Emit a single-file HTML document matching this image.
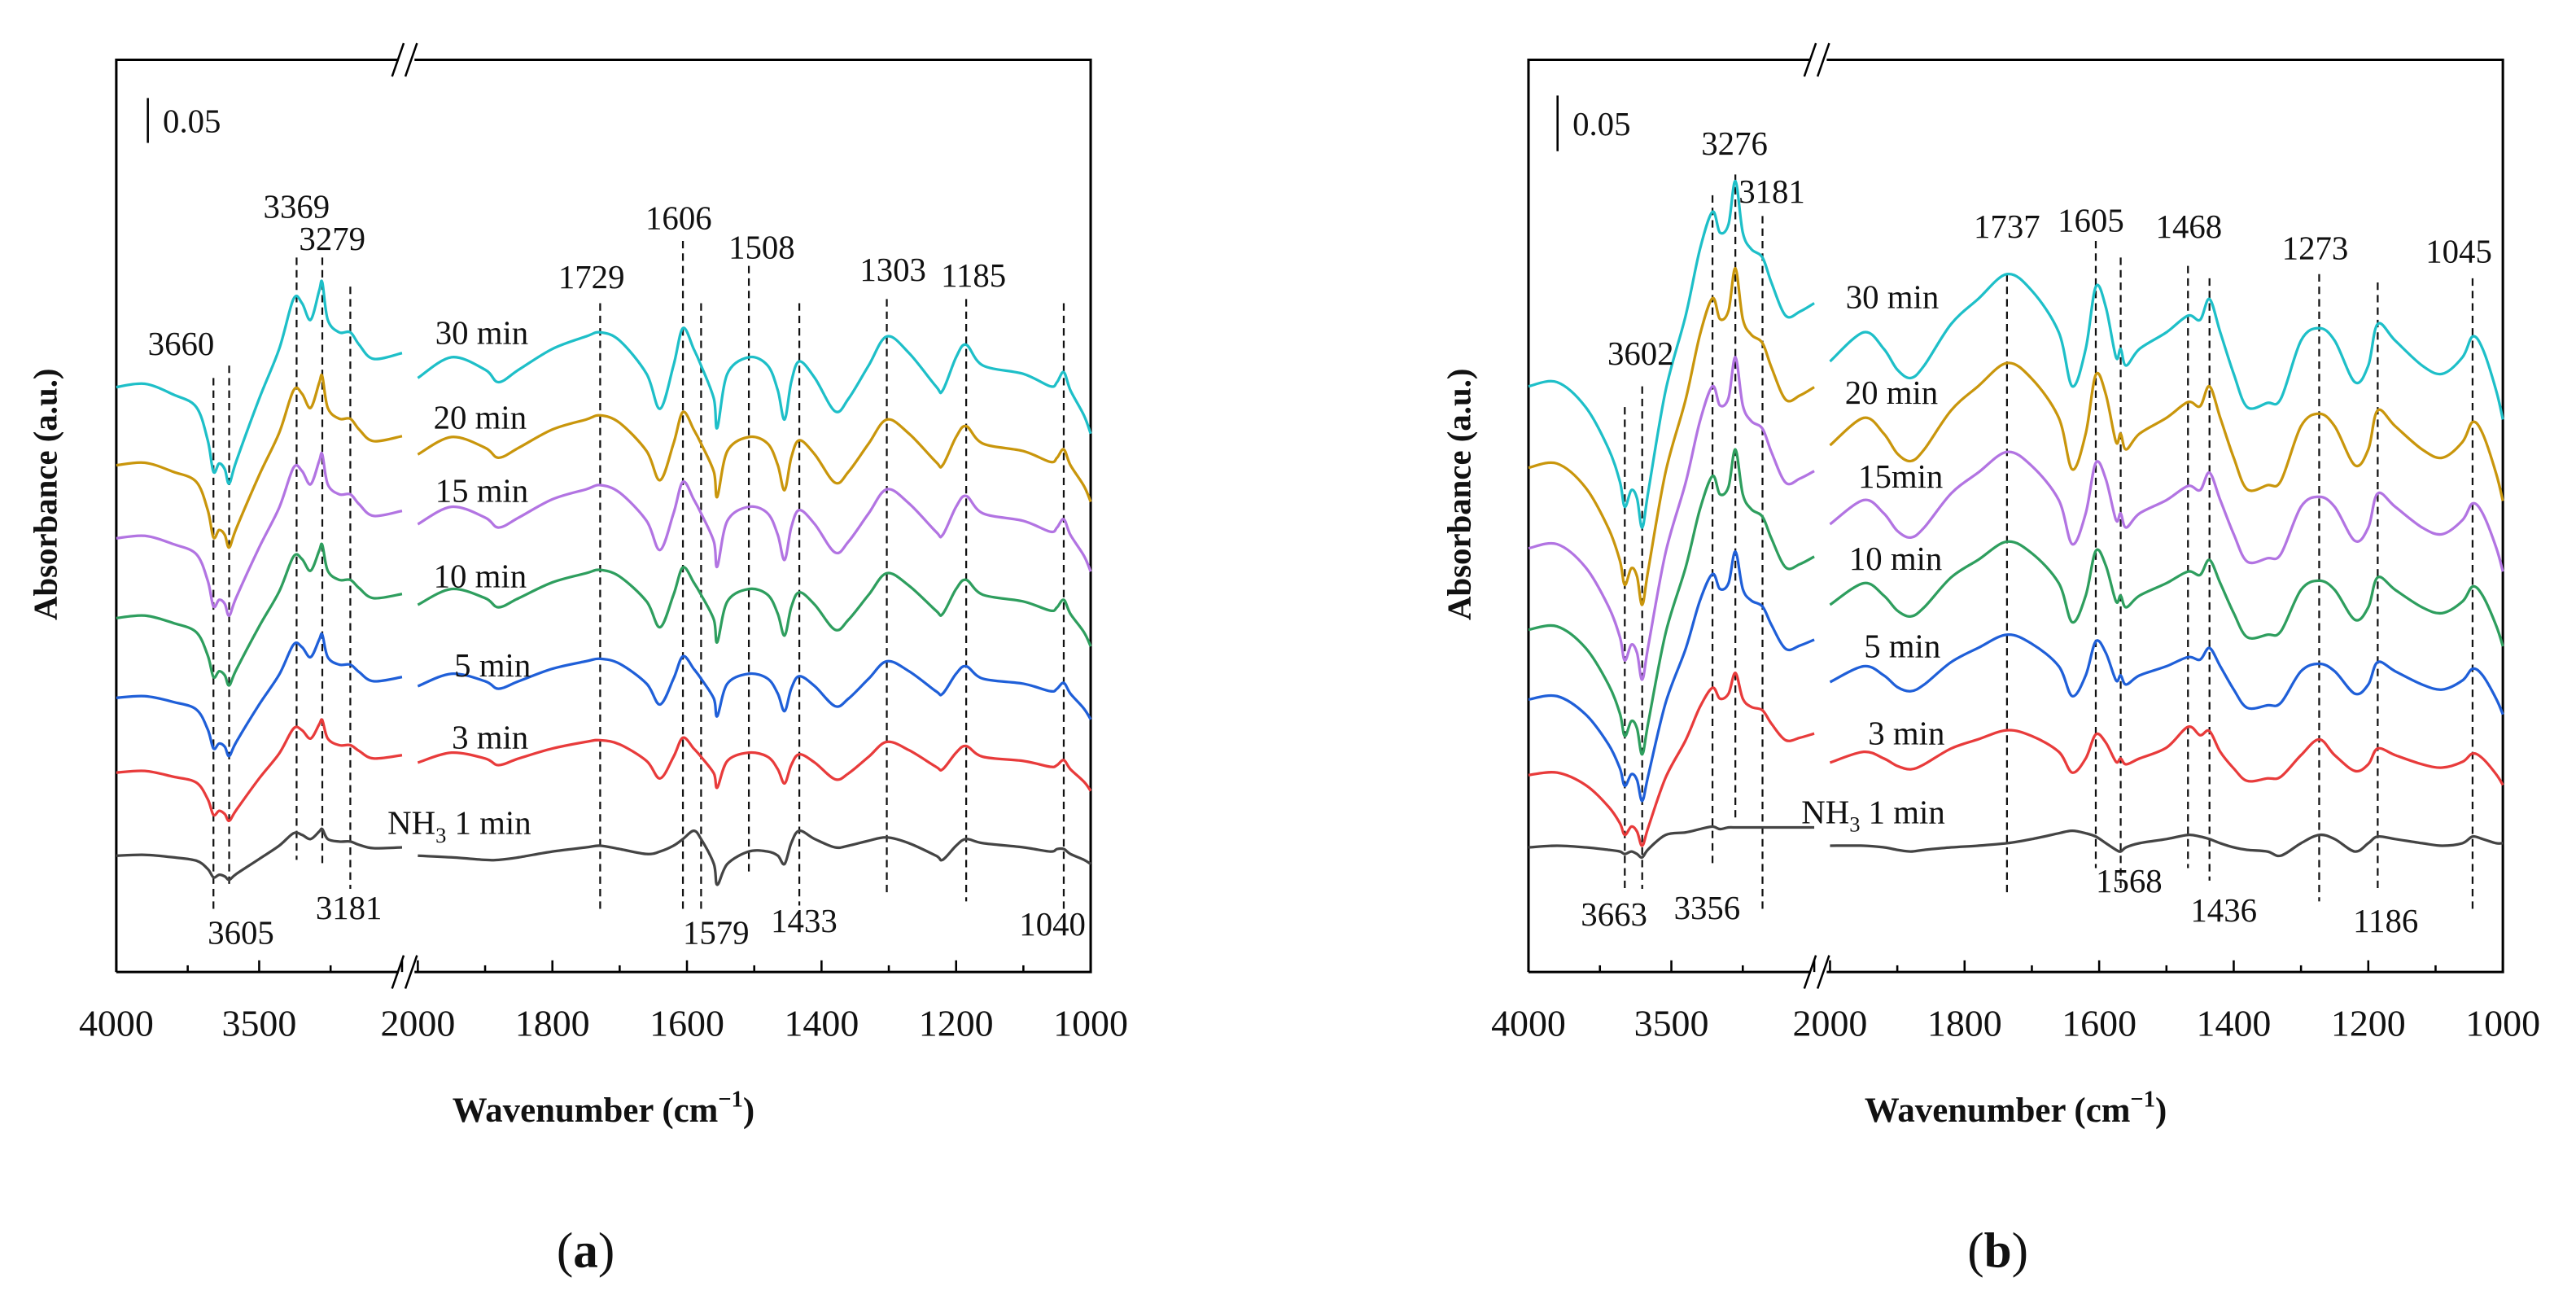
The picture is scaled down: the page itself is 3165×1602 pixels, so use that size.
<!DOCTYPE html>
<html><head><meta charset="utf-8"><style>
html,body{margin:0;padding:0;background:#fff;}
svg{display:block;}
text{font-family:"Liberation Serif",serif;fill:#111;}
</style></head><body>
<svg id="svg" width="3165" height="1602" viewBox="0 0 3165 1602">
<g id="pa" transform="translate(0,0) scale(1.0206)"></g>
<g id="pb" transform="translate(1582,0) scale(1.0206)"></g>
</svg>
<script>
// ---------- Panel A data ----------
const seriesNames = ["30 min","20 min","15 min","10 min","5 min","3 min","NH3 1 min"];
const seriesColors = ["#1ebfc8","#c9960c","#b274e2","#2e9e5e","#1f5fd8","#e83b3b","#444444"];
const wnLeftA = [4000,3900,3800,3720,3680,3660,3640,3620,3605,3580,3500,3430,3380,3350,3320,3290,3279,3260,3220,3181,3150,3100,3000];
const wnRightA = [2000,1950,1900,1880,1850,1800,1750,1729,1700,1660,1640,1620,1606,1590,1579,1560,1555,1540,1508,1480,1465,1455,1445,1433,1410,1380,1360,1330,1303,1270,1230,1220,1200,1185,1160,1100,1060,1050,1040,1030,1010,1000];
const offsetLeftA = [704,610,522,426,330,240,140];
const offsetRightA = [648,566,482,392,304,218,130];
const leftA = [
[0,4,-9,-24,-64,-102,-92,-99,-116,-89,-14,46,106,101,81,116,126,81,66,66,51,34,41],
[0,3,-8,-20,-54,-87,-78,-84,-99,-76,-12,39,90,86,69,99,107,69,56,56,43,29,35],
[0,3,-7,-19,-51,-82,-74,-79,-93,-71,-11,37,85,81,65,93,101,65,53,53,41,27,33],
[0,3,-6,-17,-45,-71,-64,-69,-81,-62,-10,32,74,71,57,81,88,57,46,46,36,24,29],
[0,2,-5,-14,-38,-61,-55,-59,-70,-53,-8,28,64,61,49,70,76,49,40,40,31,20,25],
[0,2,-5,-12,-32,-51,-46,-50,-58,-45,-7,23,53,51,41,58,63,41,33,33,26,17,21],
[0,1,-2,-6,-16,-26,-23,-25,-29,-22,-4,12,27,25,20,29,32,20,17,17,13,9,10]];
const rightA = [
[67,92,77,62,77,102,117,122,112,72,30,82,127,102,82,42,7,72,92,82,52,17,62,87,67,27,42,82,117,97,57,52,92,107,82,72,57,62,74,52,22,0],
[57,78,65,53,65,87,99,104,95,61,26,70,108,87,70,36,6,61,78,70,44,14,53,74,57,23,36,70,99,82,48,44,78,91,70,61,48,53,63,44,19,0],
[57,78,65,53,65,87,99,104,95,61,26,70,108,87,70,36,6,61,78,70,44,14,53,74,57,23,36,70,99,82,48,44,78,91,70,61,48,53,63,44,19,0],
[50,69,58,47,58,77,88,92,84,54,23,62,95,77,62,32,5,54,69,62,39,13,47,65,50,20,32,62,88,73,43,39,69,80,62,54,43,47,56,39,17,0],
[40,55,46,37,46,61,70,73,67,43,18,49,76,61,49,25,4,43,55,49,31,10,37,52,40,16,25,49,70,58,34,31,55,64,49,43,34,37,44,31,13,0],
[34,46,39,31,39,51,59,61,56,36,15,41,64,51,41,21,4,36,46,41,26,9,31,44,34,14,21,41,59,49,29,26,46,54,41,36,29,31,37,26,11,0],
[10,8,5,5,8,15,20,22,18,12,15,22,30,40,30,0,-25,0,15,15,10,0,25,40,30,20,22,28,32,25,10,5,22,30,25,20,15,18,18,12,5,0]];
const peaksA = [3660,3605,3369,3279,3181,1729,1606,1579,1508,1433,1303,1185,1040];
const peakTopA = [455,440,310,310,345,365,290,365,320,365,360,360,365];
const peakBotA = [1100,1070,1035,1040,1070,1095,1095,1100,1050,1090,1075,1085,1100];
const peakLabelsA = [["3660",218,413],["3369",357,248],["3279",400,287],["1729",712,333],["1606",817,262],["1508",917,297],["1303",1075,324],["1185",1172,331],["3605",290,1122],["3181",420,1092],["1579",862,1122],["1433",968,1108],["1040",1267,1112]];
const seriesLabelPosA = [[580,400],[578,502],[580,590],[578,693],[593,800],[590,887],[553,990]];

// ---------- Panel B data ----------
const wnLeftB = [4000,3900,3800,3720,3680,3663,3640,3620,3602,3580,3520,3450,3400,3356,3330,3300,3276,3250,3220,3181,3150,3100,3050,3000];
const wnRightB = [2000,1950,1920,1900,1880,1860,1820,1780,1737,1700,1660,1640,1620,1605,1590,1575,1568,1560,1540,1500,1468,1450,1436,1420,1400,1380,1350,1330,1300,1273,1250,1220,1200,1186,1160,1120,1090,1060,1045,1030,1010,1000];
const offsetLeftB = [705,607,510,412,328,237,150];
const offsetRightB = [665,567,482,392,310,225,155];
const leftB = [
[0,5,-25,-75,-115,-145,-125,-135,-170,-125,-5,85,165,210,185,195,247,185,165,155,125,85,90,100],
[0,5,-24,-73,-112,-141,-121,-131,-165,-121,-5,82,160,204,179,189,240,179,160,150,121,82,87,97],
[0,5,-23,-70,-107,-135,-116,-126,-158,-116,-5,79,153,195,172,181,230,172,153,144,116,79,84,93],
[0,4,-22,-66,-101,-128,-110,-119,-150,-110,-4,75,145,185,163,172,217,163,145,136,110,75,79,88],
[0,4,-18,-54,-83,-104,-90,-97,-122,-90,-4,61,119,151,133,140,178,133,119,112,90,61,65,72],
[0,3,-12,-38,-58,-72,-62,-68,-85,-62,-3,42,82,105,92,98,123,92,82,78,62,42,45,50],
[0,2,0,-3,-5,-8,-5,-8,-12,-2,15,18,22,25,22,24,24,24,24,24,24,24,24,24]];
const rightB = [
[70,105,85,60,50,65,115,145,175,155,105,40,85,160,135,75,85,65,85,105,125,120,145,105,55,15,20,25,95,110,95,45,65,115,95,65,55,75,100,85,35,0],
[67,100,81,57,48,62,109,138,166,147,100,38,81,152,128,71,81,62,81,100,119,114,138,100,52,14,19,24,90,105,90,43,62,109,90,62,52,71,95,81,33,0],
[57,86,70,49,41,53,94,119,144,127,86,33,70,131,111,62,70,53,70,86,103,98,119,86,45,12,16,21,78,90,78,37,53,94,78,53,45,62,82,70,29,0],
[50,76,61,43,36,47,83,104,126,112,76,29,61,115,97,54,61,47,61,76,90,86,104,76,40,11,14,18,68,79,68,32,47,83,68,47,40,54,72,61,25,0],
[39,58,47,33,28,36,63,80,96,85,58,22,47,88,74,41,47,36,47,58,69,66,80,58,30,8,11,14,52,61,52,25,36,63,52,36,30,41,55,47,19,0],
[27,40,32,23,19,25,44,55,66,59,40,15,32,61,51,28,32,25,32,45,70,60,65,40,20,5,8,10,36,55,36,17,25,44,36,25,21,28,38,32,13,0],
[-3,-3,-5,-8,-10,-8,-5,-3,0,5,12,15,12,8,0,-8,-10,-5,0,5,10,8,5,0,-5,-8,-10,-15,0,10,5,-10,0,8,5,0,-3,0,8,5,0,0]];
const peaksB = [3663,3602,3356,3276,3181,1737,1605,1568,1468,1436,1273,1186,1045];
const peakTopB = [490,465,235,210,260,330,290,310,320,335,330,340,335];
const peakBotB = [1075,1070,1045,990,1100,1080,1045,1075,1045,1060,1085,1070,1100];
const peakLabelsB = [["3602",425,425],["3276",538,172],["3181",583,230],["1737",866,272],["1605",967,265],["1468",1085,272],["1273",1237,298],["1045",1410,302],["3663",393,1100],["3356",505,1092],["1568",1013,1060],["1436",1127,1095],["1186",1322,1108]];
const seriesLabelPosB = [[728,357],[727,472],[738,573],[732,672],[740,777],[745,882],[705,977]];

const leftTicks = [4000,3500];
const rightTicks = [2000,1800,1600,1400,1200,1000];

const NS="http://www.w3.org/2000/svg";
function mk(parent,tag,attrs){const e=document.createElementNS(NS,tag);for(const k in attrs)e.setAttribute(k,attrs[k]);parent.appendChild(e);return e;}
function smooth(pts){let d="M"+pts[0][0].toFixed(1)+","+pts[0][1].toFixed(1);
 for(let i=0;i<pts.length-1;i++){const p0=pts[Math.max(0,i-1)],p1=pts[i],p2=pts[i+1],p3=pts[Math.min(pts.length-1,i+2)];
  const c1=[p1[0]+(p2[0]-p0[0])/6,p1[1]+(p2[1]-p0[1])/6],c2=[p2[0]-(p3[0]-p1[0])/6,p2[1]-(p3[1]-p1[1])/6];
  d+="C"+c1[0].toFixed(1)+","+c1[1].toFixed(1)+" "+c2[0].toFixed(1)+","+c2[1].toFixed(1)+" "+p2[0].toFixed(1)+","+p2[1].toFixed(1);}
 return d;}

function drawPanel(g,cfg){
 const L=cfg.x4000, xL=wn=>L+(4000-wn)*0.344, xR=wn=>cfg.x2000+(2000-wn)*0.81, yv=v=>1170-v;
 const xAny=wn=>wn>2500?xL(wn):xR(wn);
 const top=72,bot=1170,right=cfg.x2000+810,brk=xL(3000);
 // frame
 let e=mk(g,'path',{d:`M${L},${bot}V${top}H${brk-4}M${cfg.x2000-4},${top}H${right}V${bot}H${cfg.x2000-4}M${brk-4},${bot}H${L}`,fill:'none',stroke:'#000','stroke-width':3});
 
 for(const yy of [top,bot]){
  e=mk(g,'path',{d:`M${brk-12},${yy+20}L${brk+2},${yy-20}M${brk+4},${yy+20}L${brk+18},${yy-20}`,stroke:'#000','stroke-width':2.5,fill:'none'});
  
 }
 // ticks
 for(let w=4000;w>=3000;w-=250){const x=xL(w);const major=w%500===0;
  e=mk(g,'line',{x1:x,x2:x,y1:bot,y2:bot-(major?14:8),stroke:'#000','stroke-width':2.5});}
 for(let w=2000;w>=1000;w-=100){const x=xR(w);const major=w%200===0;
  e=mk(g,'line',{x1:x,x2:x,y1:bot,y2:bot-(major?14:8),stroke:'#000','stroke-width':2.5});}
 for(const w of leftTicks){e=mk(g,'text',{x:xL(w),y:1247,'font-size':45,'text-anchor':'middle'});e.textContent=w;}
 for(const w of rightTicks){e=mk(g,'text',{x:xR(w),y:1247,'font-size':45,'text-anchor':'middle'});e.textContent=w;}
 // axis titles
 e=mk(g,'text',{x:(L+right)/2,y:1350,'font-size':42,'font-weight':'bold','text-anchor':'middle'});
 e.innerHTML='Wavenumber (cm<tspan font-size="28" dy="-18">−1</tspan><tspan dy="18">)</tspan>';
 
 e=mk(g,'text',{x:0,y:0,'font-size':40,'font-weight':'bold','text-anchor':'middle',transform:`translate(${cfg.yTitleX},595) rotate(-90)`});
 e.textContent='Absorbance (a.u.)';
 // scale bar
 e=mk(g,'line',{x1:cfg.bar[0],x2:cfg.bar[0],y1:cfg.bar[1],y2:cfg.bar[2],stroke:'#000','stroke-width':2.5});
 e=mk(g,'text',{x:cfg.bar[0]+18,y:(cfg.bar[1]+cfg.bar[2])/2+14,'font-size':40});e.textContent='0.05';
 // peak dashed lines
 cfg.peaks.forEach((w,i)=>{const x=xAny(w);
  e=mk(g,'line',{x1:x,x2:x,y1:cfg.pTop[i],y2:cfg.pBot[i],stroke:'#111','stroke-width':2.2,'stroke-dasharray':'9,6'});
  });
 // series
 seriesNames.forEach((nm,s)=>{
  const pl=cfg.wnL.map((w,i)=>[xL(w),yv(cfg.offL[s]+cfg.dL[s][i])]);
  const pr=cfg.wnR.map((w,i)=>[xR(w),yv(cfg.offR[s]+cfg.dR[s][i])]);
  e=mk(g,'path',{d:smooth(pl)+smooth(pr),fill:'none',stroke:seriesColors[s],'stroke-width':3.2,'stroke-linejoin':'round'});
  
 });
 // labels
 cfg.pLabels.forEach(p=>{e=mk(g,'text',{x:p[1],y:p[2]+14,'font-size':40,'text-anchor':'middle'});e.textContent=p[0];});
 seriesNames.forEach((nm,s)=>{const p=cfg.sPos[s];
  e=mk(g,'text',{x:p[0],y:p[1]+14,'font-size':40,'text-anchor':'middle'});
  if(nm.startsWith('NH3'))e.innerHTML='NH<tspan font-size="26" dy="10">3</tspan><tspan dy="-10"> 1 min</tspan>';else e.textContent=nm.replace(' min',cfg.tight&&nm==='15 min'?'min':' min');
  });
 // panel letter
 e=mk(g,'text',{x:cfg.letterX,y:1525,'font-size':60,'text-anchor':'middle'});
 e.innerHTML='(<tspan font-weight="bold">'+cfg.letter+'</tspan>)';
 
}
drawPanel(document.getElementById('pa'),{x4000:140,x2000:503,yTitleX:68,bar:[178,118,172],wnL:wnLeftA,wnR:wnRightA,offL:offsetLeftA,offR:offsetRightA,dL:leftA,dR:rightA,peaks:peaksA,pTop:peakTopA,pBot:peakBotA,pLabels:peakLabelsA,sPos:seriesLabelPosA,letter:'a',letterX:705,tight:false});
drawPanel(document.getElementById('pb'),{x4000:290,x2000:653,yTitleX:220,bar:[325,115,182],wnL:wnLeftB,wnR:wnRightB,offL:offsetLeftB,offR:offsetRightB,dL:leftB,dR:rightB,peaks:peaksB,pTop:peakTopB,pBot:peakBotB,pLabels:peakLabelsB,sPos:seriesLabelPosB,letter:'b',letterX:855,tight:true});
</script>
</body></html>
